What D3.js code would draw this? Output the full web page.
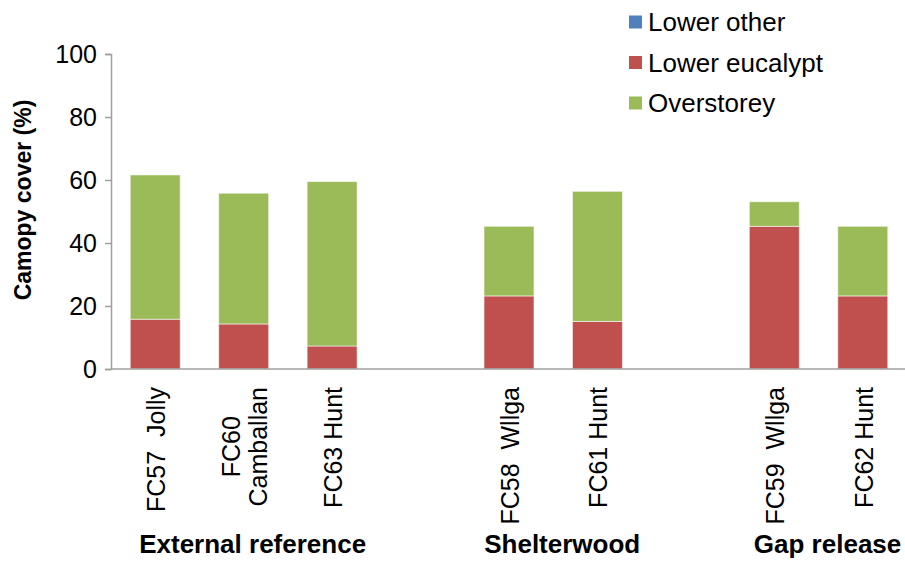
<!DOCTYPE html>
<html>
<head>
<meta charset="utf-8">
<script src="https://cdn.jsdelivr.net/npm/d3@7"></script>
<style>
  html, body { margin: 0; padding: 0; background: #fff; }
  svg { display: block; font-family: "Liberation Sans", Arial, sans-serif; }
</style>
</head>
<body>
<div id="chart"></div>
<script>
// 站点 (blank slots separate the treatment groups)
const sites = ['FC57  Jolly', 'FC60\nCamballan', 'FC63 Hunt', '', 'FC58  Wllga', 'FC61 Hunt', ' ', 'FC59  Wllga', 'FC62 Hunt'];
const lowerOther = [0, 0, 0, null, 0, 0, null, 0, 0];
const lowerEucalypt = [15.8, 14.3, 7.3, null, 23.2, 15.1, null, 45.3, 23.2];
const overstorey = [45.8, 41.5, 52.2, null, 22.1, 41.3, null, 7.8, 22.1];
const seriesNames = ['Lower other', 'Lower eucalypt', 'Overstorey'];
const seriesColors = ['#4F81BD', '#C0504D', '#9BBB59'];
const groups = [
  { name: 'External reference', members: ['FC57  Jolly', 'FC60\nCamballan', 'FC63 Hunt'] },
  { name: 'Shelterwood', members: ['FC58  Wllga', 'FC61 Hunt'] },
  { name: 'Gap release', members: ['FC59  Wllga', 'FC62 Hunt'] }
];
const yTicks = [0, 20, 40, 60, 80, 100];

const width = 905, height = 561;
const margin = { top: 54, right: -2, bottom: 192, left: 111 };

const svg = d3.select('#chart').append('svg').attr('width', width).attr('height', height);

const x = d3.scaleBand()
  .domain(sites)
  .range([margin.left, width - margin.right])
  .paddingInner(0.435)
  .paddingOuter(0.2175);

const y = d3.scaleLinear().domain([0, 100]).range([height - margin.bottom, margin.top]);

// 堆叠数据
const table = sites.map((s, i) => ({
  site: s,
  'Lower other': lowerOther[i] || 0,
  'Lower eucalypt': lowerEucalypt[i] || 0,
  'Overstorey': overstorey[i] || 0,
  empty: lowerEucalypt[i] === null
}));
const stacked = d3.stack().keys(seriesNames)(table);

const layers = svg.append('g').selectAll('g')
  .data(stacked)
  .enter()
  .append('g')
  .attr('fill', (d, i) => seriesColors[i]);

layers.selectAll('rect')
  .data(d => d.filter(p => !p.data.empty && p[1] > p[0]))
  .enter()
  .append('rect')
  .attr('x', d => x(d.data.site))
  .attr('y', d => y(d[1]))
  .attr('width', x.bandwidth())
  .attr('height', d => y(d[0]) - y(d[1]))
  .attr('stroke', 'rgba(255,255,255,0.55)')
  .attr('stroke-width', 1);

// y axis
const yAxis = svg.append('g')
  .attr('transform', `translate(${margin.left},0)`)
  .call(d3.axisLeft(y).tickValues(yTicks).tickSize(6).tickPadding(8));
yAxis.select('.domain').attr('stroke', '#A0A0A0').attr('stroke-width', 1.5);
yAxis.selectAll('.tick line').attr('stroke', '#A0A0A0').attr('stroke-width', 1.5);
yAxis.selectAll('.tick text')
  .attr('fill', '#000')
  .style('font-size', '25px')
  .style('font-family', '"Liberation Sans", Arial, sans-serif');

// x axis line
svg.append('line')
  .attr('x1', margin.left).attr('x2', width)
  .attr('y1', y(0)).attr('y2', y(0))
  .attr('stroke', '#A0A0A0').attr('stroke-width', 1.5);

// x tick labels, rotated
const labelTop = y(0) + 18;
sites.forEach(s => {
  if (!s.trim()) return;
  const lines = s.split('\n');
  const g = svg.append('g');
  const texts = lines.map(l => g.append('text')
    .attr('font-size', 25)
    .attr('fill', '#000')
    .attr('text-anchor', 'middle')
    .attr('xml:space', 'preserve')
    .text(l));
  const maxLen = d3.max(texts, t => t.node().getComputedTextLength());
  const cx = x(s) + x.bandwidth() / 2;
  const lh = 27;
  texts.forEach((t, i) => {
    const off = (i - (lines.length - 1) / 2) * lh + 10;
    t.attr('transform', `translate(${cx + off},${labelTop + maxLen / 2}) rotate(-90)`);
  });
});

// group labels
groups.forEach(gp => {
  const centers = gp.members.map(m => x(m) + x.bandwidth() / 2);
  const cx = (d3.min(centers) + d3.max(centers)) / 2 + 9;
  svg.append('text')
    .attr('x', cx)
    .attr('y', 553)
    .attr('text-anchor', 'middle')
    .attr('font-size', 26)
    .attr('font-weight', 'bold')
    .text(gp.name);
});

// y axis title
svg.append('text')
  .attr('transform', 'translate(31,200) rotate(-90)')
  .attr('text-anchor', 'middle')
  .attr('font-size', 23)
  .attr('font-weight', 'bold')
  .text('Camopy cover (%)');

// legend
const legend = svg.append('g').attr('transform', 'translate(629,22)');
seriesNames.forEach((name, i) => {
  const row = legend.append('g').attr('transform', `translate(0,${i * 40.5})`);
  row.append('rect')
    .attr('x', 0).attr('y', -6.5)
    .attr('width', 13).attr('height', 13)
    .attr('fill', seriesColors[i]);
  row.append('text')
    .attr('x', 19).attr('y', 9)
    .attr('font-size', 26)
    .text(name);
});
</script>
</body>
</html>
